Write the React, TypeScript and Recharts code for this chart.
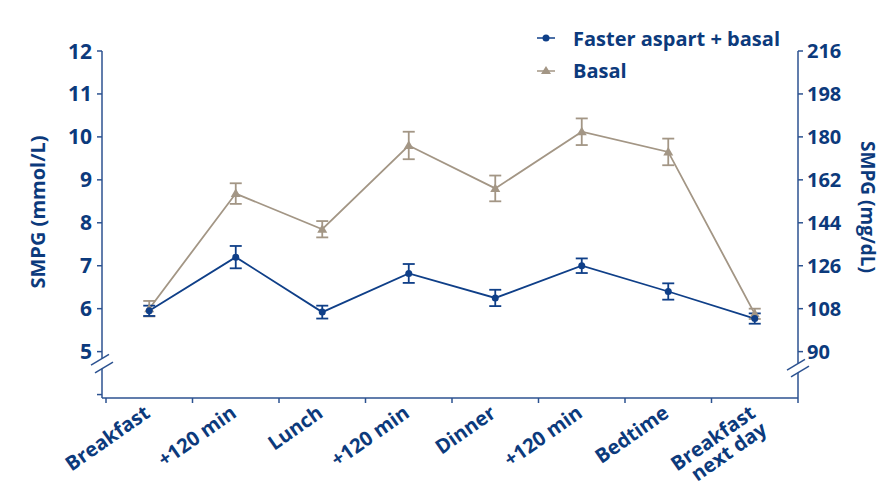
import { LineChart, Line, XAxis, YAxis, ErrorBar, Legend } from 'recharts'

const categories = [
  'Breakfast',
  '+120 min',
  'Lunch',
  '+120 min',
  'Dinner',
  '+120 min',
  'Bedtime',
  'Breakfast\nnext day',
]
const fasterAspart = [5.95, 7.2, 5.92, 6.82, 6.25, 7.0, 6.4, 5.77]
const fasterAspartErr = [0.12, 0.26, 0.15, 0.22, 0.19, 0.17, 0.19, 0.12]
const basal = [6.0, 8.68, 7.85, 9.8, 8.8, 10.12, 9.65, 5.88]
const basalErr = [0.18, 0.24, 0.19, 0.32, 0.3, 0.31, 0.31, 0.12]
const mmolTicks = [4, 5, 6, 7, 8, 9, 10, 11, 12]
const mgTicks = [90, 108, 126, 144, 162, 180, 198, 216]
const slotTicks = [0, 1, 2, 3, 4, 5, 6, 7, 8]

const NAVY = '#0c3a7c'
const AXIS = '#2c5290'
const BLUE = '#0f3f88'
const GREY = '#a39685'
const FONT = '"Open Sans", sans-serif'
const BAND = 86.5
const MMOL_MIN = 3.92

const chartData = categories.map((name, i) => ({
  name,
  pos: i + 0.5,
  fast: fasterAspart[i],
  fastErr: fasterAspartErr[i],
  basal: basal[i],
  basalErr: basalErr[i],
}))

interface TickProps {
  x?: number | string
  y?: number | string
  payload?: { value: number }
}

// slashes drawn across an axis line to mark the broken scale
function AxisBreak({ ax, c1, c2 }: { ax: number; c1: number; c2: number }) {
  return (
    <g>
      <rect x={ax - 2} y={c1} width={4} height={c2 - c1} fill='#fff' />
      <line x1={ax - 11} y1={c1 + 6.6} x2={ax + 7} y2={c1 - 4.2} stroke={AXIS} strokeWidth={1.5} />
      <line x1={ax - 7} y1={c2 + 4.2} x2={ax + 11} y2={c2 - 6.6} stroke={AXIS} strokeWidth={1.5} />
    </g>
  )
}

function LeftTick({ x, y, payload }: TickProps) {
  if (!payload) return null
  const tx = Number(x)
  const ty = Number(y)
  const ax = tx + 10
  return (
    <g>
      {payload.value !== 4 && (
        <text x={tx} y={ty} dy={7.5} textAnchor='end' fill={NAVY} fontSize={21} fontWeight={700} fontFamily={FONT}>
          {payload.value}
        </text>
      )}
      {payload.value === 5 && <AxisBreak ax={ax} c1={ty + 7} c2={ty + 17} />}
    </g>
  )
}

function RightTick({ x, y, payload }: TickProps) {
  if (!payload) return null
  const tx = Number(x)
  const ty = Number(y)
  const ax = tx - 9
  return (
    <g>
      <text x={tx} y={ty} dy={7} textAnchor='start' fill={NAVY} fontSize={20} fontWeight={700} fontFamily={FONT}>
        {payload.value}
      </text>
      {payload.value === 90 && <AxisBreak ax={ax} c1={ty + 12} c2={ty + 21} />}
    </g>
  )
}

function SlotTick({ x, y, payload }: TickProps) {
  if (!payload) return null
  const label = categories[payload.value]
  if (!label) return null
  const lines = label.split('\n')
  return (
    <g transform={`translate(${Number(x) + BAND / 2 + 2},${Number(y) + 11}) rotate(-35)`}>
      {lines.map((l, k) => (
        <text
          key={k}
          x={0}
          y={k * 20}
          textAnchor='end'
          fill={NAVY}
          fontSize={20}
          fontWeight={700}
          fontFamily={FONT}
        >
          {l}
        </text>
      ))}
    </g>
  )
}

interface DotProps {
  cx?: number
  cy?: number
}

function Triangle({ cx, cy }: DotProps) {
  if (cx == null || cy == null) return null
  return <path d={`M${cx},${cy - 5} L${cx + 5},${cy + 3.5} L${cx - 5},${cy + 3.5} Z`} fill={GREY} />
}

function renderLegend() {
  const row = { display: 'flex', alignItems: 'center', height: 32 }
  const text = { fontFamily: FONT, fontWeight: 700, fontSize: 20, color: NAVY, marginLeft: 18 }
  return (
    <div>
      <div style={row}>
        <svg width={18} height={12}>
          <line x1={0} y1={6} x2={18} y2={6} stroke={BLUE} strokeWidth={1.5} />
          <circle cx={9} cy={6} r={3.5} fill={BLUE} />
        </svg>
        <span style={text}>Faster aspart + basal</span>
      </div>
      <div style={row}>
        <svg width={18} height={12}>
          <line x1={0} y1={7} x2={18} y2={7} stroke={GREY} strokeWidth={1.5} />
          <path d='M9,2 L14,10 L4,10 Z' fill={GREY} />
        </svg>
        <span style={text}>Basal</span>
      </div>
    </div>
  )
}

export default function App() {
  return (
    <div style={{ position: 'absolute', left: 0, top: 0, background: '#fff' }}>
      <LineChart
        width={881}
        height={486}
        data={chartData}
        margin={{ top: 51, right: 0, left: 0, bottom: 0 }}
      >
        <XAxis
          type='number'
          dataKey='pos'
          domain={[0, 8]}
          ticks={slotTicks}
          interval={0}
          padding={{ left: 4, right: 0 }}
          height={88}
          stroke={AXIS}
          strokeWidth={1.5}
          tickSize={5}
          tickMargin={2}
          tick={SlotTick}
        />
        <YAxis
          yAxisId='left'
          domain={[MMOL_MIN, 12]}
          ticks={mmolTicks}
          interval={0}
          width={102}
          allowDataOverflow
          stroke={AXIS}
          strokeWidth={1.5}
          tickSize={5}
          tickMargin={5}
          tick={LeftTick}
          label={{
            content: () => (
              <text
                transform='translate(45,212) rotate(-90)'
                textAnchor='middle'
                fill={NAVY}
                fontSize={20}
                fontWeight={700}
                fontFamily={FONT}
              >
                SMPG (mmol/L)
              </text>
            ),
          }}
        />
        <YAxis
          yAxisId='right'
          orientation='right'
          domain={[MMOL_MIN * 18, 216]}
          ticks={mgTicks}
          interval={0}
          width={83}
          allowDataOverflow
          stroke={AXIS}
          strokeWidth={1.5}
          tickSize={5}
          tickMargin={4}
          tick={RightTick}
          label={{
            content: () => (
              <text
                transform='translate(861,207) rotate(90)'
                textAnchor='middle'
                fill={NAVY}
                fontSize={19}
                fontWeight={700}
                fontFamily={FONT}
              >
                SMPG (mg/dL)
              </text>
            ),
          }}
        />
        <Legend
          layout='vertical'
          align='center'
          verticalAlign='middle'
          content={renderLegend}
          wrapperStyle={{ position: 'absolute', left: 537, top: 22, width: 300, height: 64 }}
        />
        <Line
          yAxisId='left'
          dataKey='basal'
          stroke={GREY}
          strokeWidth={1.8}
          dot={<Triangle />}
          activeDot={false}
          isAnimationActive={false}
        >
          <ErrorBar dataKey='basalErr' direction='y' width={6} stroke={GREY} strokeWidth={1.8} />
        </Line>
        <Line
          yAxisId='left'
          dataKey='fast'
          stroke={BLUE}
          strokeWidth={1.8}
          dot={{ r: 3.5, fill: BLUE, stroke: BLUE, strokeWidth: 0 }}
          activeDot={false}
          isAnimationActive={false}
        >
          <ErrorBar dataKey='fastErr' direction='y' width={6} stroke={BLUE} strokeWidth={1.8} />
        </Line>
      </LineChart>
    </div>
  )
}
